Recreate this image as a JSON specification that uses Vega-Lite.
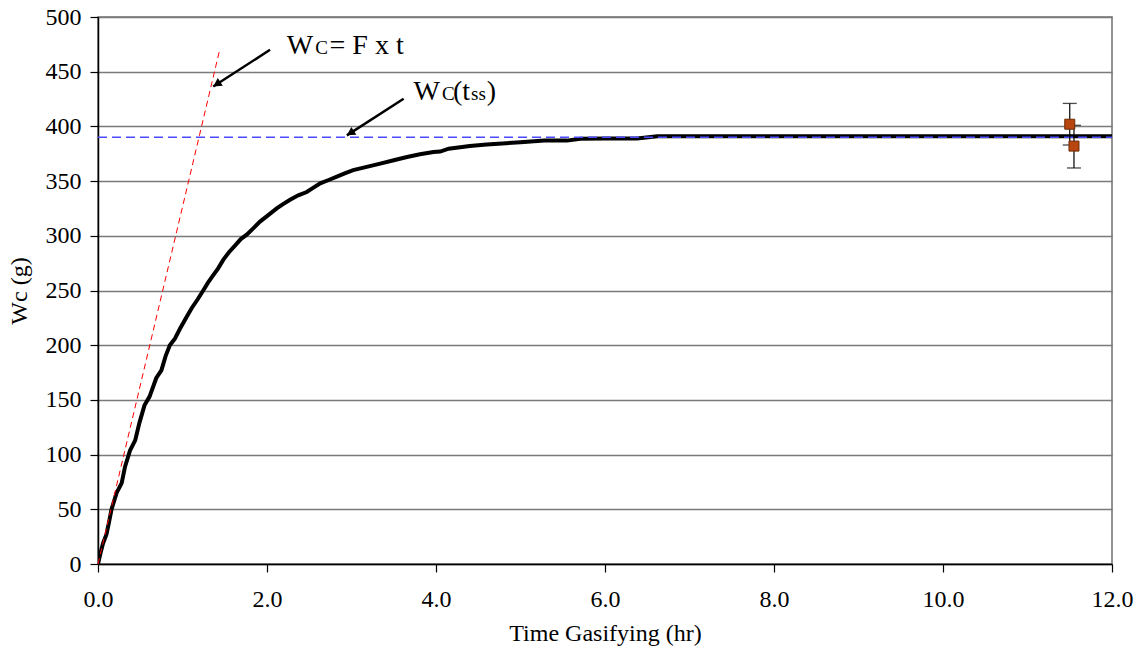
{
  "$schema": "https://vega.github.io/schema/vega-lite/v6.json",
  "width": 1014,
  "height": 547,
  "autosize": "none",
  "padding": {"left": 98, "top": 17, "right": 31, "bottom": 85},
  "background": "white",
  "config": {
    "view": {"stroke": "#707070", "strokeWidth": 1.5},
    "font": "Liberation Serif",
    "axis": {
      "labelFont": "Liberation Serif",
      "titleFont": "Liberation Serif",
      "labelFontSize": 24,
      "titleFontSize": 24,
      "titleFontWeight": "normal",
      "labelColor": "black",
      "titleColor": "black",
      "domainColor": "black",
      "domainWidth": 1.5,
      "tickColor": "black",
      "tickWidth": 1.2,
      "tickSize": 8,
      "labelFlush": false
    }
  },
  "datasets": {
    "curve": [
      {"t": 0, "W": 0}, {"t": 0.03, "W": 10}, {"t": 0.06, "W": 19}, {"t": 0.1, "W": 27},
      {"t": 0.13, "W": 38}, {"t": 0.16, "W": 50}, {"t": 0.22, "W": 65}, {"t": 0.28, "W": 74},
      {"t": 0.32, "W": 89}, {"t": 0.38, "W": 104}, {"t": 0.44, "W": 113}, {"t": 0.49, "W": 129},
      {"t": 0.55, "W": 145}, {"t": 0.61, "W": 153}, {"t": 0.69, "W": 170}, {"t": 0.75, "W": 177},
      {"t": 0.8, "W": 190}, {"t": 0.85, "W": 200}, {"t": 0.91, "W": 206}, {"t": 0.97, "W": 215},
      {"t": 1.05, "W": 226}, {"t": 1.11, "W": 234}, {"t": 1.18, "W": 242}, {"t": 1.245, "W": 250},
      {"t": 1.3, "W": 257}, {"t": 1.364, "W": 264}, {"t": 1.42, "W": 270}, {"t": 1.482, "W": 278},
      {"t": 1.55, "W": 285}, {"t": 1.621, "W": 291}, {"t": 1.69, "W": 297}, {"t": 1.76, "W": 301},
      {"t": 1.84, "W": 307}, {"t": 1.917, "W": 313}, {"t": 2.0, "W": 318}, {"t": 2.115, "W": 325},
      {"t": 2.19, "W": 329}, {"t": 2.273, "W": 333}, {"t": 2.37, "W": 337}, {"t": 2.47, "W": 340},
      {"t": 2.55, "W": 344}, {"t": 2.63, "W": 348}, {"t": 2.73, "W": 351}, {"t": 2.827, "W": 354},
      {"t": 2.92, "W": 357}, {"t": 3.02, "W": 360}, {"t": 3.18, "W": 363}, {"t": 3.34, "W": 366},
      {"t": 3.5, "W": 369}, {"t": 3.657, "W": 372}, {"t": 3.81, "W": 374.5}, {"t": 3.97, "W": 376.6},
      {"t": 4.05, "W": 377}, {"t": 4.15, "W": 379.6}, {"t": 4.4, "W": 382}, {"t": 4.6, "W": 383.5},
      {"t": 5.0, "W": 385.5}, {"t": 5.28, "W": 387}, {"t": 5.55, "W": 387}, {"t": 5.71, "W": 388.6},
      {"t": 6.0, "W": 389}, {"t": 6.38, "W": 389}, {"t": 6.62, "W": 391}, {"t": 7.0, "W": 391},
      {"t": 12.0, "W": 391}
    ],
    "fline": [{"t": 0, "W": 0}, {"t": 1.443, "W": 471}],
    "ssline": [{"t": 0, "W": 390}, {"t": 12, "W": 390}],
    "arrows": [
      {"t1": 2.036, "W1": 470, "t2": 1.364, "W2": 436.5},
      {"t1": 3.617, "W1": 425.3, "t2": 2.945, "W2": 391.8}
    ],
    "meas": [
      {"t": 11.5, "W": 402, "lo": 383, "hi": 421},
      {"t": 11.55, "W": 382, "lo": 362, "hi": 401}
    ],
    "bigtext": [
      {"t": 2.234, "W": 465.8, "label": "W"},
      {"t": 2.74, "W": 465.8, "label": "= F x t"},
      {"t": 3.735, "W": 424, "label": "W"},
      {"t": 4.2, "W": 424, "label": "(t"},
      {"t": 4.6, "W": 424, "label": ")"}
    ],
    "smalltext": [
      {"t": 2.572, "W": 465.8, "label": "C"},
      {"t": 4.07, "W": 424, "label": "C"},
      {"t": 4.415, "W": 424, "label": "ss"}
    ]
  },
  "layer": [
    {
      "data": {"name": "curve"},
      "mark": {"type": "line", "color": "black", "strokeWidth": 4, "clip": true},
      "encoding": {
        "x": {"field": "t", "type": "quantitative", "scale": {"domain": [0, 12], "nice": false},
          "axis": {"values": [0, 2, 4, 6, 8, 10, 12], "format": ".1f", "grid": false, "title": "Time Gasifying (hr)", "labelPadding": 15, "titlePadding": 10}},
        "y": {"field": "W", "type": "quantitative", "scale": {"domain": [0, 500], "nice": false},
          "axis": {"values": [0, 50, 100, 150, 200, 250, 300, 350, 400, 450, 500], "grid": true, "gridColor": "#7a7a7a", "gridWidth": 1.5, "title": "Wc (g)", "labelPadding": 9, "titlePadding": 14}}
      }
    },
    {
      "data": {"name": "fline"},
      "mark": {"type": "line", "color": "#ff0000", "strokeWidth": 1, "strokeDash": [6, 4]},
      "encoding": {"x": {"field": "t", "type": "quantitative"}, "y": {"field": "W", "type": "quantitative"}}
    },
    {
      "data": {"name": "ssline"},
      "mark": {"type": "line", "color": "#4a4aff", "strokeWidth": 1.5, "strokeDash": [9, 5]},
      "encoding": {"x": {"field": "t", "type": "quantitative"}, "y": {"field": "W", "type": "quantitative"}}
    },
    {
      "data": {"name": "arrows"},
      "mark": {"type": "rule", "color": "black", "strokeWidth": 2.5},
      "encoding": {
        "x": {"field": "t1", "type": "quantitative"}, "y": {"field": "W1", "type": "quantitative"},
        "x2": {"field": "t2"}, "y2": {"field": "W2"}
      }
    },
    {
      "data": {"name": "arrows"},
      "mark": {"type": "point", "shape": "M0,0 L-0.55,1 L0.55,1 Z", "filled": true, "color": "black", "opacity": 1, "size": 280, "angle": 237},
      "encoding": {"x": {"field": "t2", "type": "quantitative"}, "y": {"field": "W2", "type": "quantitative"}}
    },
    {
      "data": {"name": "meas"},
      "mark": {"type": "rule", "color": "black", "strokeWidth": 1.2},
      "encoding": {"x": {"field": "t", "type": "quantitative"}, "y": {"field": "lo", "type": "quantitative"}, "y2": {"field": "hi"}}
    },
    {
      "data": {"name": "meas"},
      "mark": {"type": "tick", "orient": "horizontal", "color": "black", "size": 14, "thickness": 1.3},
      "encoding": {"x": {"field": "t", "type": "quantitative"}, "y": {"field": "lo", "type": "quantitative"}}
    },
    {
      "data": {"name": "meas"},
      "mark": {"type": "tick", "orient": "horizontal", "color": "black", "size": 14, "thickness": 1.3},
      "encoding": {"x": {"field": "t", "type": "quantitative"}, "y": {"field": "hi", "type": "quantitative"}}
    },
    {
      "data": {"name": "meas"},
      "mark": {"type": "point", "shape": "square", "filled": true, "color": "#b8460f", "stroke": "#6e2a05", "strokeWidth": 1, "opacity": 1, "size": 100},
      "encoding": {"x": {"field": "t", "type": "quantitative"}, "y": {"field": "W", "type": "quantitative"}}
    },
    {
      "data": {"name": "bigtext"},
      "mark": {"type": "text", "font": "Liberation Serif", "fontSize": 28, "align": "left", "baseline": "alphabetic", "color": "black"},
      "encoding": {"x": {"field": "t", "type": "quantitative"}, "y": {"field": "W", "type": "quantitative"}, "text": {"field": "label"}}
    },
    {
      "data": {"name": "smalltext"},
      "mark": {"type": "text", "font": "Liberation Serif", "fontSize": 19, "align": "left", "baseline": "alphabetic", "color": "black"},
      "encoding": {"x": {"field": "t", "type": "quantitative"}, "y": {"field": "W", "type": "quantitative"}, "text": {"field": "label"}}
    }
  ]
}
